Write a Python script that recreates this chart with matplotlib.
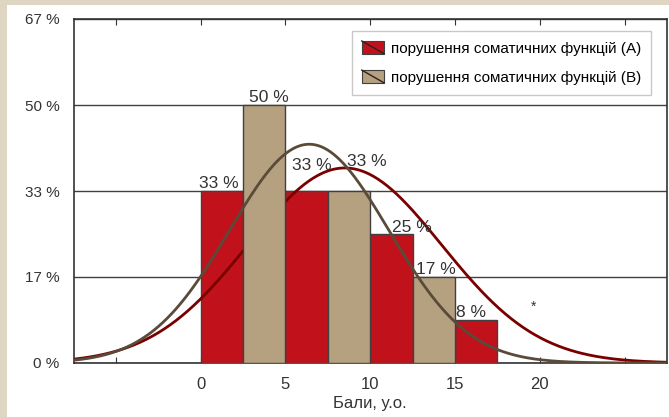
import numpy as np
import matplotlib.pyplot as plt
from matplotlib.patches import Rectangle
from matplotlib.lines import Line2D
from matplotlib.legend_handler import HandlerPatch

plt.rcParams['font.family'] = ['Liberation Sans', 'DejaVu Sans']

# дані
bins_a = [0, 5, 10, 15]
vals_a = [33.33, 33.33, 25.0, 8.33]
labels_a = ['33 %', '33 %', '25 %', '8 %']

bins_b = [2.5, 7.5, 12.5]
vals_b = [50.0, 33.33, 16.67]
labels_b = ['50 %', '33 %', '17 %']

# нормальні криві (середнє, ст. відхилення, пік у %)
fit_a = (8.5, 5.7, 37.8)
fit_b = (6.4, 4.7, 42.4)

name_a = 'порушення соматичних функцій (А)'
name_b = 'порушення соматичних функцій (В)'

ytick_vals = [0, 16.67, 33.33, 50, 66.67]
ytick_labels = ['0 %', '17 %', '33 %', '50 %', '67 %']
xtick_vals = [0, 5, 10, 15, 20]

red = '#c1121c'
tan = '#b5a080'
red_line = '#7a0000'
tan_line = '#5a4a3a'
edge = '#404040'
txt = '#333333'

fig = plt.figure(figsize=(6.69, 4.17), dpi=100, facecolor='#ded6c2')
fig.add_artist(Rectangle((7 / 669, 0), 1, 1 - 5 / 417, transform=fig.transFigure,
                         facecolor='white', edgecolor='none', zorder=-5))
ax = fig.add_axes([73.5 / 669, 1 - 363 / 417, (667 - 73.5) / 669, 344 / 417])
ax.set_facecolor('white')

w = 2.5
ax.bar(bins_a, vals_a, width=w, align='edge', color=red, edgecolor=edge, linewidth=1, zorder=3)
ax.bar(bins_b, vals_b, width=w, align='edge', color=tan, edgecolor=edge, linewidth=1, zorder=5)

x = np.linspace(-7.5, 27.5, 400)
mu, sd, pk = fit_a
ax.plot(x, pk * np.exp(-(x - mu) ** 2 / (2 * sd ** 2)), color=red_line, lw=2, zorder=4)
mu, sd, pk = fit_b
ax.plot(x, pk * np.exp(-(x - mu) ** 2 / (2 * sd ** 2)), color=tan_line, lw=2, zorder=6)

# підписи стовпців (зсув по x у одиницях осі, по y у %)
off_a = [(-0.2, 0.0), (0.3, 3.4), (1.2, -0.2), (-0.3, 0.0)]
off_b = [(0.3, 0.0), (1.05, 4.3), (0.1, 0.0)]
for b, v, t, (dx, dy) in zip(bins_a, vals_a, labels_a, off_a):
    ax.text(b + w / 2 + dx, v + dy, t, ha='center', va='bottom', fontsize=12.5, color=txt, zorder=8)
for b, v, t, (dx, dy) in zip(bins_b, vals_b, labels_b, off_b):
    ax.text(b + w / 2 + dx, v + dy, t, ha='center', va='bottom', fontsize=12.5, color=txt, zorder=8)
ax.text(19.6, 10.9, '*', ha='center', va='center', fontsize=10, color=txt)

ax.set_xlim(-7.5, 27.5)
ax.set_ylim(0, 66.67)
ax.set_yticks(ytick_vals)
ax.set_yticklabels(ytick_labels, fontsize=11, color=txt)
ax.set_xticks(np.arange(-5, 30, 5))
ax.set_xticklabels([str(v) if v in xtick_vals else '' for v in range(-5, 30, 5)], fontsize=12, color=txt)
ax.tick_params(axis='y', length=0, pad=10)
ax.tick_params(axis='x', direction='in', length=4, top=True, pad=10, color=txt)
ax.grid(axis='y', color=edge, lw=1, zorder=1)
for s in ax.spines.values():
    s.set_color(txt)
    s.set_linewidth(1.2)
ax.set_xlabel('Бали, у.о.', fontsize=12, color=txt, labelpad=3)


class DiagHandler(HandlerPatch):
    def create_artists(self, legend, orig_handle, xdescent, ydescent, width, height, fontsize, trans):
        r = Rectangle((-xdescent, -ydescent), width, height, facecolor=orig_handle.get_facecolor(),
                      edgecolor=edge, lw=0.8, transform=trans)
        l = Line2D([-xdescent, -xdescent + width], [-ydescent + height, -ydescent],
                   color='#302020', lw=1, transform=trans)
        return [r, l]


h_a = Rectangle((0, 0), 1, 1, facecolor=red)
h_b = Rectangle((0, 0), 1, 1, facecolor=tan)
leg = ax.legend([h_a, h_b], [name_a, name_b], handler_map={Rectangle: DiagHandler()},
                loc='upper right', bbox_to_anchor=(0.973, 0.965), fontsize=11,
                fancybox=False, framealpha=1, edgecolor='#c8c8c8', borderpad=0.65,
                labelspacing=0.95, handlelength=1.45, handleheight=0.9, handletextpad=0.45,
                borderaxespad=0)
leg.set_zorder(10)
leg.get_frame().set_linewidth(1)

fig.savefig('out.png', dpi=100, facecolor=fig.get_facecolor())
